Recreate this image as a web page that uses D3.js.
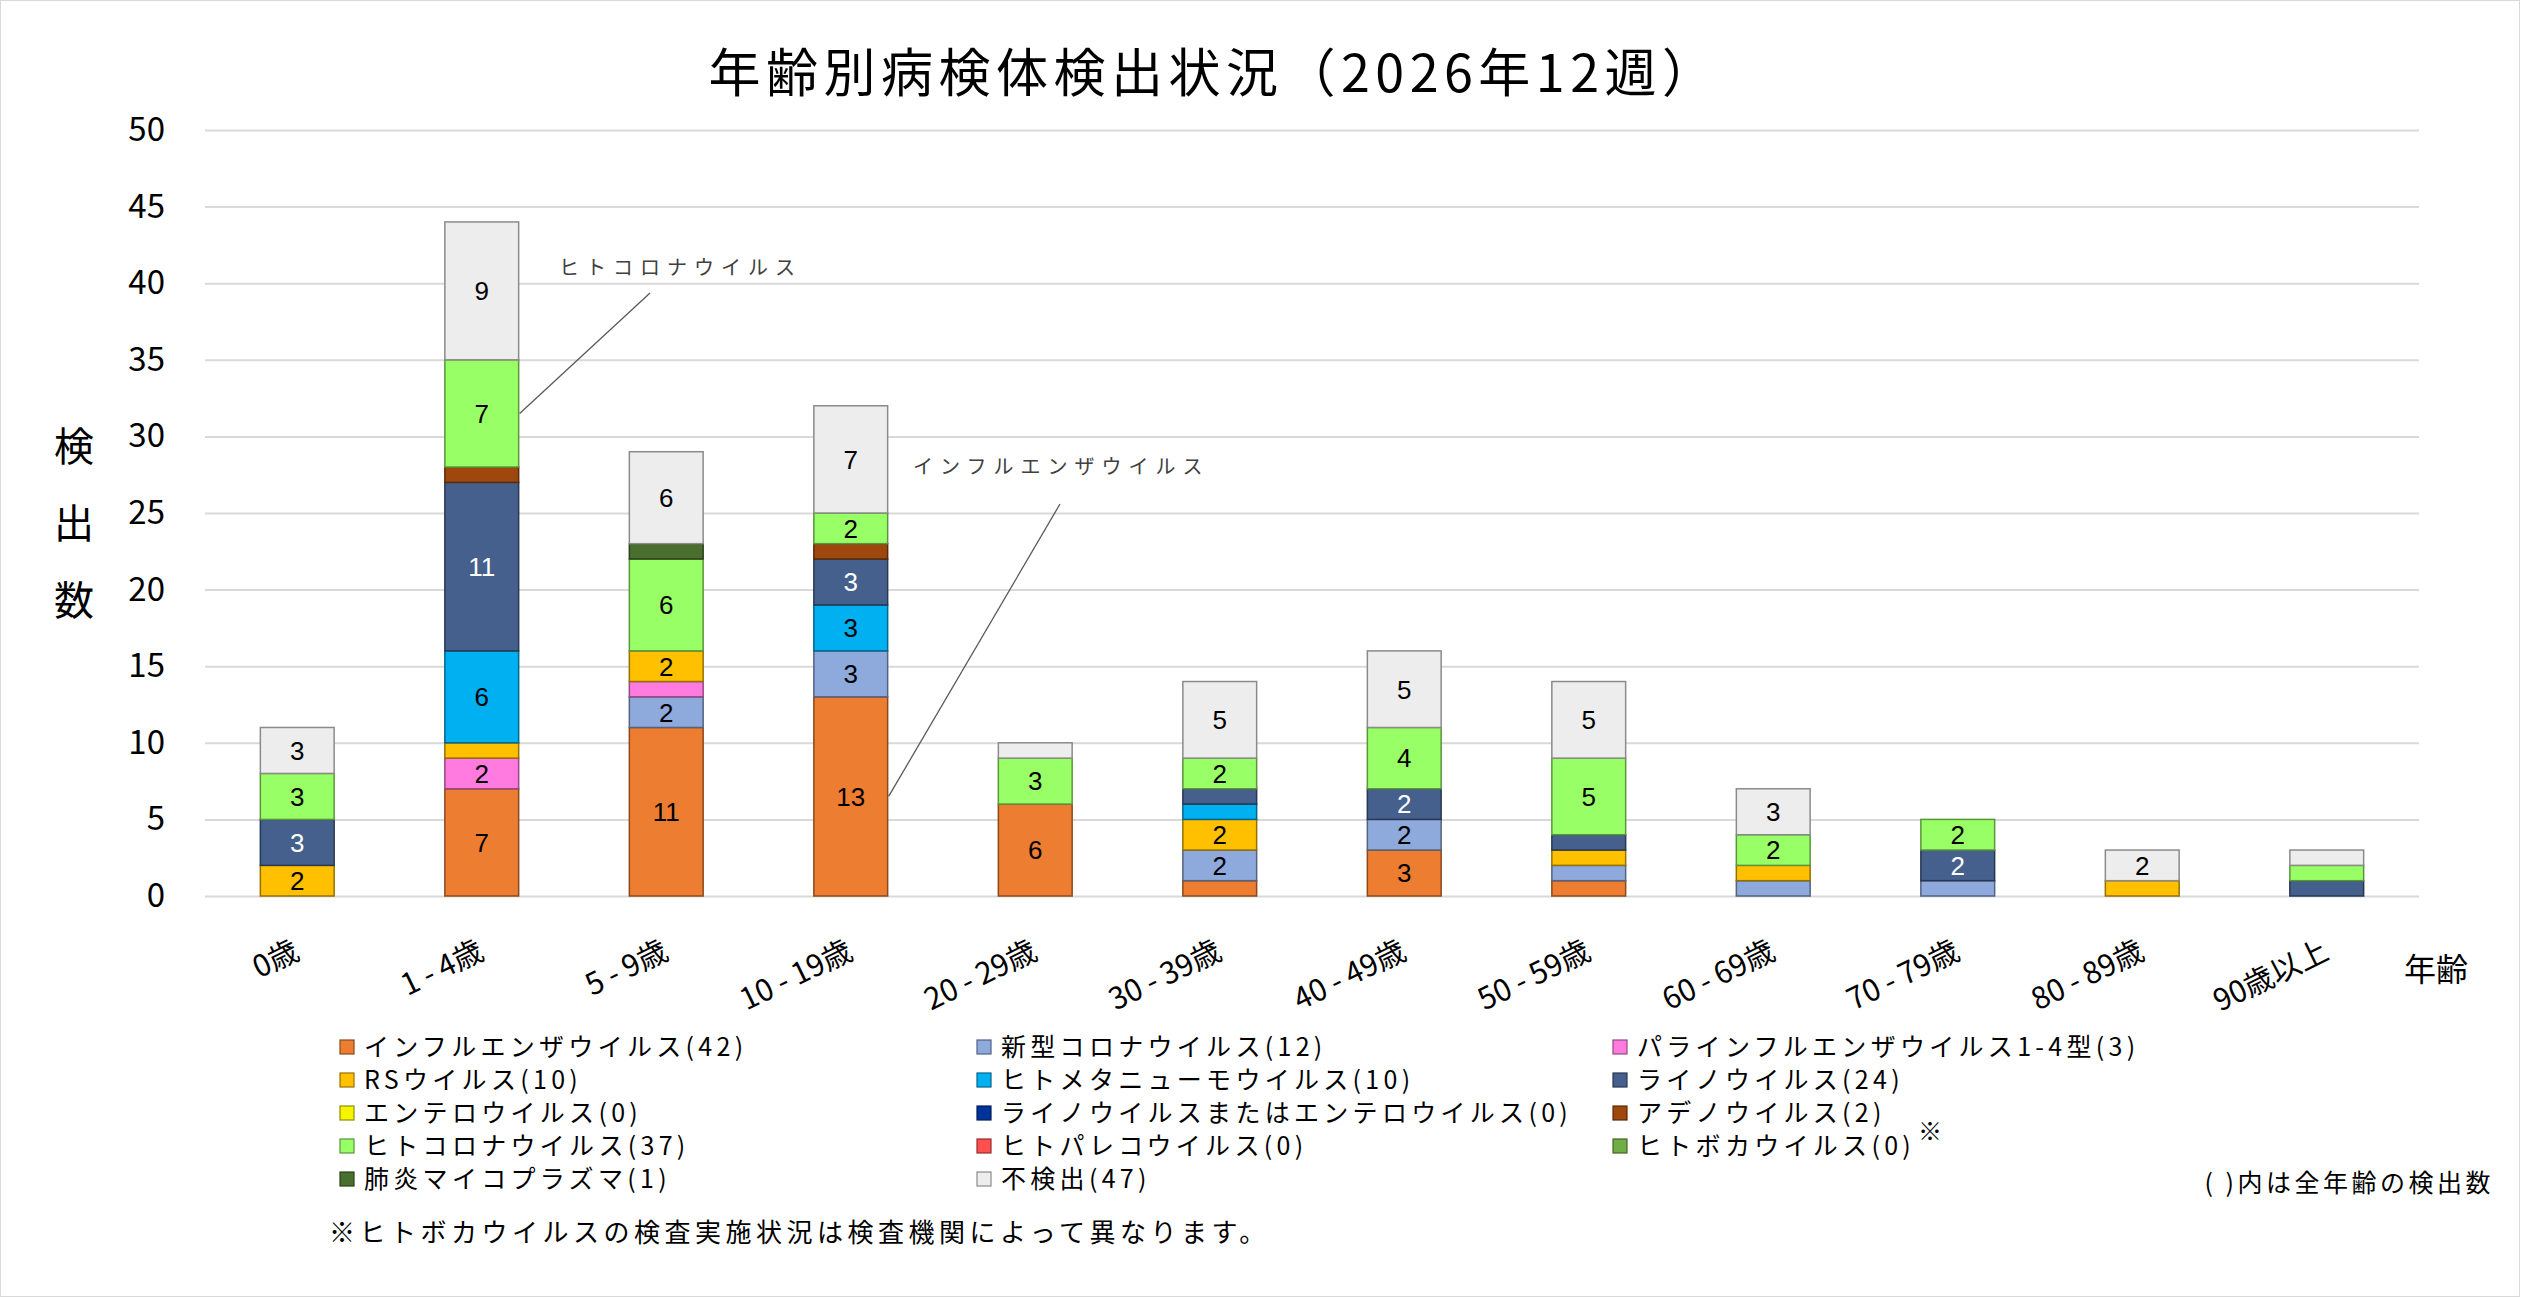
<!DOCTYPE html>
<html>
<head>
<meta charset="utf-8">
<script src="https://cdn.jsdelivr.net/npm/d3@7"></script>
<style>
body { margin: 0; background: #fff; }
text { font-family: "Noto Sans CJK JP", "Noto Sans", sans-serif; }
text.value { font-family: "Liberation Sans", "DejaVu Sans", sans-serif; }
</style>
</head>
<body>
<div id="chart"></div>
<script>
// age groups on the x axis
const ageGroups = ["0歳", "1 - 4歳", "5 - 9歳", "10 - 19歳", "20 - 29歳", "30 - 39歳",
    "40 - 49歳", "50 - 59歳", "60 - 69歳", "70 - 79歳", "80 - 89歳", "90歳以上"];

// virus names (stack order, bottom to top) and colours
const virusNames = ["インフルエンザウイルス", "新型コロナウイルス", "パラインフルエンザウイルス1-4型",
    "RSウイルス", "ヒトメタニューモウイルス", "ライノウイルス", "エンテロウイルス",
    "ライノウイルスまたはエンテロウイルス", "アデノウイルス", "ヒトコロナウイルス",
    "ヒトパレコウイルス", "ヒトボカウイルス", "肺炎マイコプラズマ", "不検出"];
const virusColors = ["#ED7D31", "#8EA9DB", "#FF7BE0", "#FFC000", "#00B0F0", "#45608C", "#F5F500",
    "#003399", "#9E480E", "#99FF66", "#FF4F4F", "#70AD47", "#4A6E2D", "#EDEDED"];

// counts per age group, one array per virus
const influenza    = [0, 7, 11, 13, 6, 1, 3, 1, 0, 0, 0, 0];
const sarsCov2     = [0, 0, 2, 3, 0, 2, 2, 1, 1, 1, 0, 0];
const parainfluenza = [0, 2, 1, 0, 0, 0, 0, 0, 0, 0, 0, 0];
const rsv          = [2, 1, 2, 0, 0, 2, 0, 1, 1, 0, 1, 0];
const metapneumo   = [0, 6, 0, 3, 0, 1, 0, 0, 0, 0, 0, 0];
const rhino        = [3, 11, 0, 3, 0, 1, 2, 1, 0, 2, 0, 1];
const entero       = [0, 0, 0, 0, 0, 0, 0, 0, 0, 0, 0, 0];
const rhinoEntero  = [0, 0, 0, 0, 0, 0, 0, 0, 0, 0, 0, 0];
const adeno        = [0, 1, 0, 1, 0, 0, 0, 0, 0, 0, 0, 0];
const coronaHuman  = [3, 7, 6, 2, 3, 2, 4, 5, 2, 2, 0, 1];
const parecho      = [0, 0, 0, 0, 0, 0, 0, 0, 0, 0, 0, 0];
const boca         = [0, 0, 0, 0, 0, 0, 0, 0, 0, 0, 0, 0];
const mycoplasma   = [0, 0, 1, 0, 0, 0, 0, 0, 0, 0, 0, 0];
const notDetected  = [3, 9, 6, 7, 1, 5, 5, 5, 3, 0, 2, 1];

const seriesValues = [influenza, sarsCov2, parainfluenza, rsv, metapneumo, rhino, entero,
    rhinoEntero, adeno, coronaHuman, parecho, boca, mycoplasma, notDetected];

const yTicks = [0, 5, 10, 15, 20, 25, 30, 35, 40, 45, 50];

function renderChart() {
    const width = 2522;
    const height = 1297;
    const margin = { top: 130, right: 103, bottom: 401, left: 205 };

    const rows = ageGroups.map((g, i) => {
        const r = { group: g };
        virusNames.forEach((v, j) => { r[v] = seriesValues[j][i]; });
        return r;
    });

    const stacked = d3.stack().keys(virusNames)(rows);

    const color = d3.scaleOrdinal().domain(virusNames).range(virusColors);

    const x = d3.scaleBand()
        .domain(ageGroups)
        .range([margin.left, width - margin.right])
        .paddingInner(0.6)
        .paddingOuter(0.3);

    const y = d3.scaleLinear()
        .domain([0, 50])
        .range([height - margin.bottom, margin.top]);

    const svg = d3.select("#chart").append("svg")
        .attr("width", width)
        .attr("height", height)
        .style("display", "block");

    svg.append("rect")
        .attr("x", 0.5).attr("y", 0.5)
        .attr("width", width - 3).attr("height", height - 1)
        .attr("fill", "#fff")
        .attr("stroke", "#D9D9D9");

    // title
    svg.append("text")
        .attr("x", 1214)
        .attr("y", 92)
        .attr("text-anchor", "middle")
        .style("font-size", "52px")
        .style("letter-spacing", "5.5px")
        .attr("fill", "#000")
        .text("年齢別病検体検出状況（2026年12週）");

    // gridlines + y axis labels
    const yAxis = d3.axisLeft(y)
        .tickValues(yTicks)
        .tickSize(-(width - margin.left - margin.right))
        .tickPadding(40);

    svg.append("g")
        .attr("transform", `translate(${margin.left},0)`)
        .call(yAxis)
        .call(g => g.select(".domain").remove())
        .call(g => g.selectAll(".tick line").attr("stroke", "#D9D9D9").attr("stroke-width", 2))
        .call(g => g.selectAll(".tick text")
            .style("font-size", "33px")
            .attr("fill", "#000"));

    // y title, stacked vertically
    svg.append("g")
        .selectAll("text")
        .data(["検", "出", "数"])
        .join("text")
        .attr("x", 74)
        .attr("y", (d, i) => 461 + i * 77)
        .attr("text-anchor", "middle")
        .style("font-size", "40px")
        .attr("fill", "#000")
        .text(d => d);

    // bars
    const layer = svg.append("g")
        .selectAll("g")
        .data(stacked)
        .join("g")
        .attr("fill", d => color(d.key))
        .attr("stroke", d => d3.color(color(d.key)).darker(1.5))
        .attr("stroke-width", 1.5);

    layer.selectAll("rect")
        .data(d => d.filter(s => s[1] - s[0] > 0))
        .join("rect")
        .attr("x", d => x(d.data.group))
        .attr("y", d => y(d[1]))
        .attr("width", x.bandwidth())
        .attr("height", d => y(d[0]) - y(d[1]));

    // value labels (segments of 2 or more)
    const labels = [];
    stacked.forEach(s => s.forEach(d => {
        const v = d[1] - d[0];
        if (v >= 2) labels.push({ key: s.key, group: d.data.group, v, mid: (d[0] + d[1]) / 2 });
    }));

    svg.append("g")
        .selectAll("text")
        .data(labels)
        .join("text")
        .attr("class", "value")
        .attr("x", d => x(d.group) + x.bandwidth() / 2)
        .attr("y", d => y(d.mid))
        .attr("dy", "0.36em")
        .attr("text-anchor", "middle")
        .style("font-size", "26px")
        .attr("fill", d => d.key === "ライノウイルス" ? "#fff" : "#000")
        .text(d => d.v);

    // x axis labels (rotated)
    svg.append("g")
        .selectAll("text")
        .data(ageGroups)
        .join("text")
        .attr("transform", d => `translate(${x(d) + x.bandwidth() / 2 + 4},958) rotate(-26)`)
        .attr("text-anchor", "end")
        .style("font-size", "30px")
        .attr("fill", "#000")
        .text(d => d);

    svg.append("text")
        .attr("x", 2404)
        .attr("y", 981)
        .style("font-size", "32px")
        .attr("fill", "#000")
        .text("年齢");

    // callouts
    const callouts = [
        { key: "ヒトコロナウイルス", group: "1 - 4歳", tx: 559, ty: 275, lx: 650, ly: 293 },
        { key: "インフルエンザウイルス", group: "10 - 19歳", tx: 913, ty: 474, lx: 1060, ly: 504 }
    ];
    callouts.forEach(c => {
        const seg = stacked.find(s => s.key === c.key)[ageGroups.indexOf(c.group)];
        svg.append("line")
            .attr("x1", x(c.group) + x.bandwidth() + 1)
            .attr("y1", y((seg[0] + seg[1]) / 2))
            .attr("x2", c.lx)
            .attr("y2", c.ly)
            .attr("stroke", "#595959")
            .attr("stroke-width", 1.3);
        svg.append("text")
            .attr("x", c.tx)
            .attr("y", c.ty)
            .style("font-size", "20px")
            .style("letter-spacing", "7px")
            .attr("fill", "#404040")
            .text(c.key);
    });

    // legend, 3 columns
    const colX = [340, 977, 1613];
    const legend = svg.append("g")
        .selectAll("g")
        .data(virusNames)
        .join("g")
        .attr("transform", (d, i) => `translate(${colX[i % 3]},${1047 + Math.floor(i / 3) * 33})`);

    legend.append("rect")
        .attr("x", 0).attr("y", -7)
        .attr("width", 14).attr("height", 14)
        .attr("fill", d => color(d))
        .attr("stroke", d => d3.color(color(d)).darker(1.5))
        .attr("stroke-width", 1.2);

    legend.append("text")
        .attr("x", 24)
        .attr("dy", "0.36em")
        .style("font-size", "25px")
        .style("letter-spacing", "4.3px")
        .attr("fill", "#000")
        .text((d, i) => `${d}(${d3.sum(seriesValues[i])})`);

    svg.append("text")
        .attr("x", 1918).attr("y", 1140)
        .style("font-size", "24px")
        .attr("fill", "#000")
        .text("※");

    svg.append("text")
        .attr("x", 2494).attr("y", 1192)
        .attr("text-anchor", "end")
        .style("font-size", "25px")
        .style("letter-spacing", "3.5px")
        .attr("fill", "#000")
        .text("( )内は全年齢の検出数");

    svg.append("text")
        .attr("x", 329).attr("y", 1242)
        .style("font-size", "26px")
        .style("letter-spacing", "4.5px")
        .attr("fill", "#000")
        .text("※ヒトボカウイルスの検査実施状況は検査機関によって異なります。");
}

renderChart();
</script>
</body>
</html>
